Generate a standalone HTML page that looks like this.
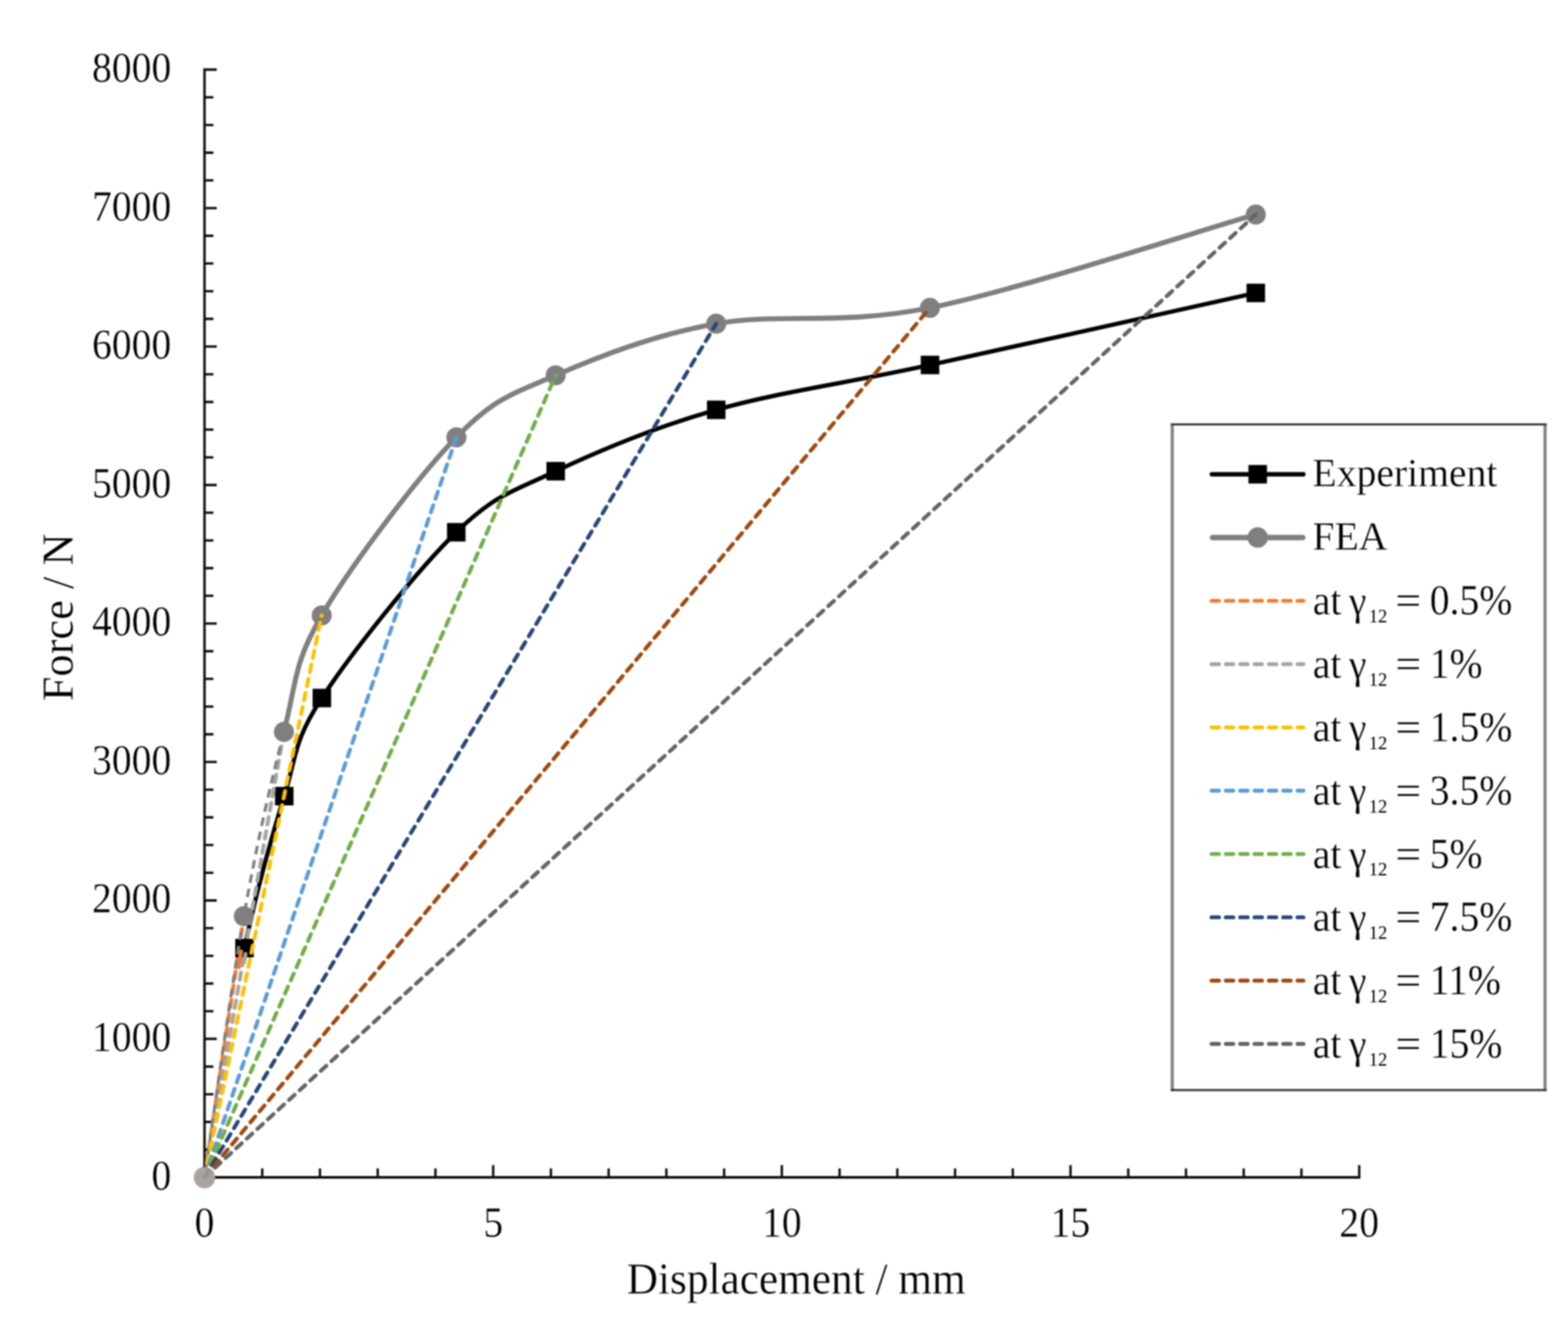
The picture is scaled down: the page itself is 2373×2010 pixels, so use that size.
<!DOCTYPE html>
<html lang="en"><head><meta charset="utf-8"><title>Force / Displacement</title>
<style>html,body{margin:0;padding:0;background:#fff}body{width:2373px;height:2010px;overflow:hidden}svg{display:block;filter:blur(0.8px)}text{font-family:"Liberation Serif","DejaVu Serif",serif;fill:#000;stroke:#fff;stroke-width:0.4px}</style></head><body>
<svg width="2373" height="2010" viewBox="0 0 2373 2010">
<rect width="2373" height="2010" fill="#fff"/>
<g stroke="#0d0d0d" stroke-width="3.6" fill="none" stroke-linecap="butt">
<path d="M309.50,103.60 V1784.10" stroke-width="3.7"/>
<path d="M307.65,1782.00 H2058.80" stroke-width="4.2"/>
<path d="M309.50,1782.00h18.5M309.50,1740.09h13.5M309.50,1698.17h13.5M309.50,1656.26h13.5M309.50,1614.34h13.5M309.50,1572.42h18.5M309.50,1530.51h13.5M309.50,1488.60h13.5M309.50,1446.68h13.5M309.50,1404.76h13.5M309.50,1362.85h18.5M309.50,1320.93h13.5M309.50,1279.02h13.5M309.50,1237.11h13.5M309.50,1195.19h13.5M309.50,1153.28h18.5M309.50,1111.36h13.5M309.50,1069.44h13.5M309.50,1027.53h13.5M309.50,985.62h13.5M309.50,943.70h18.5M309.50,901.78h13.5M309.50,859.87h13.5M309.50,817.95h13.5M309.50,776.04h13.5M309.50,734.12h18.5M309.50,692.21h13.5M309.50,650.29h13.5M309.50,608.38h13.5M309.50,566.46h13.5M309.50,524.55h18.5M309.50,482.63h13.5M309.50,440.72h13.5M309.50,398.80h13.5M309.50,356.89h13.5M309.50,314.97h18.5M309.50,273.06h13.5M309.50,231.14h13.5M309.50,189.23h13.5M309.50,147.31h13.5M309.50,105.40h18.5M309.50,1782.00v-18.5M396.88,1782.00v-13.5M484.25,1782.00v-13.5M571.62,1782.00v-13.5M659.00,1782.00v-13.5M746.38,1782.00v-18.5M833.75,1782.00v-13.5M921.12,1782.00v-13.5M1008.50,1782.00v-13.5M1095.88,1782.00v-13.5M1183.25,1782.00v-18.5M1270.62,1782.00v-13.5M1358.00,1782.00v-13.5M1445.38,1782.00v-13.5M1532.75,1782.00v-13.5M1620.12,1782.00v-18.5M1707.50,1782.00v-13.5M1794.88,1782.00v-13.5M1882.25,1782.00v-13.5M1969.62,1782.00v-13.5M2057.00,1782.00v-18.5"/>
</g>
<text transform="translate(259.2,1800.6) scale(1,1.075)" font-size="60" text-anchor="end">0</text>
<text transform="translate(259.2,1591.0) scale(1,1.075)" font-size="60" text-anchor="end">1000</text>
<text transform="translate(259.2,1381.4) scale(1,1.075)" font-size="60" text-anchor="end">2000</text>
<text transform="translate(259.2,1171.9) scale(1,1.075)" font-size="60" text-anchor="end">3000</text>
<text transform="translate(259.2,962.3) scale(1,1.075)" font-size="60" text-anchor="end">4000</text>
<text transform="translate(259.2,752.7) scale(1,1.075)" font-size="60" text-anchor="end">5000</text>
<text transform="translate(259.2,543.1) scale(1,1.075)" font-size="60" text-anchor="end">6000</text>
<text transform="translate(259.2,333.6) scale(1,1.075)" font-size="60" text-anchor="end">7000</text>
<text transform="translate(259.2,124.0) scale(1,1.075)" font-size="60" text-anchor="end">8000</text>
<text transform="translate(309.5,1871.5) scale(1,1.075)" font-size="60" text-anchor="middle">0</text>
<text transform="translate(746.4,1871.5) scale(1,1.075)" font-size="60" text-anchor="middle">5</text>
<text transform="translate(1183.2,1871.5) scale(1,1.075)" font-size="60" text-anchor="middle">10</text>
<text transform="translate(1620.1,1871.5) scale(1,1.075)" font-size="60" text-anchor="middle">15</text>
<text transform="translate(2057.0,1871.5) scale(1,1.075)" font-size="60" text-anchor="middle">20</text>
<text transform="translate(1205.0,1957.8) scale(1,1.040)" font-size="65.5" text-anchor="middle">Displacement / mm</text>
<text transform="translate(110.0,934.4) rotate(-90) scale(1,1.000)" font-size="67.2" text-anchor="middle">Force / N</text>
<path d="M370.00,1435.00 C390.12,1338.83 410.68,1268.08 430.20,1205.00 C449.72,1141.92 443.72,1123.07 487.10,1056.50 C530.48,989.93 631.52,862.82 690.50,805.60 C749.48,748.38 775.43,744.08 841.00,713.20 C906.57,682.32 989.48,647.10 1083.90,620.30 C1178.32,593.50 1271.40,581.88 1407.50,552.40 C1543.60,522.92 1818.33,461.57 1900.50,443.40" fill="none" stroke="#000" stroke-width="6.5" stroke-linejoin="round"/>
<rect x="416.2" y="1191.0" width="28" height="28" fill="#000"/>
<rect x="473.1" y="1042.5" width="28" height="28" fill="#000"/>
<rect x="676.5" y="791.6" width="28" height="28" fill="#000"/>
<rect x="827.0" y="699.2" width="28" height="28" fill="#000"/>
<rect x="1069.9" y="606.3" width="28" height="28" fill="#000"/>
<rect x="1393.5" y="538.4" width="28" height="28" fill="#000"/>
<rect x="1886.5" y="429.4" width="28" height="28" fill="#000"/>
<path d="M309.50,1782.00 L369.10,1386.80" fill="none" stroke="#ED7D31" stroke-width="5.9" stroke-dasharray="11.3 10.4" stroke-linecap="round"/>
<circle cx="309.5" cy="1782.3" r="16.6" fill="#ED7D31" fill-opacity="0.55"/>
<path d="M309.50,1782.00 L429.70,1107.70" fill="none" stroke="#A5A5A5" stroke-width="5.9" stroke-dasharray="11.3 10.4" stroke-linecap="round"/>
<circle cx="309.5" cy="1782.3" r="15.6" fill="#A5A5A5"/>
<rect x="356.0" y="1421.0" width="28" height="28" fill="#000"/>
<path d="M364.80,1440.00 l-3.6,24" stroke="#ED7D31" stroke-width="5.9" stroke-linecap="round" fill="none"/>
<path d="M371.60,1444.00 l-2.4,13" stroke="#A5A5A5" stroke-width="5.9" stroke-linecap="round" fill="none"/>
<path d="M309.50,1782.00 C319.43,1716.13 349.07,1499.18 369.10,1386.80 C389.13,1274.42 410.07,1183.58 429.70,1107.70" fill="none" stroke="#7F7F7F" stroke-width="4.6" stroke-dasharray="13 9" stroke-dashoffset="11"/>
<path d="M429.70,1107.70 C449.33,1031.82 443.40,1005.80 486.90,931.50 C530.40,857.20 631.68,722.47 690.70,661.90 C749.72,601.33 775.47,596.77 841.00,568.10 C906.53,539.43 989.52,506.93 1083.90,489.90 C1178.28,472.87 1271.20,493.43 1407.30,465.90 C1543.40,438.37 1818.30,348.23 1900.50,324.70" fill="none" stroke="#7F7F7F" stroke-width="7.6" stroke-linejoin="round"/>
<circle cx="369.1" cy="1386.8" r="15.2" fill="#7F7F7F"/>
<circle cx="429.7" cy="1107.7" r="15.2" fill="#7F7F7F"/>
<circle cx="486.9" cy="931.5" r="15.2" fill="#7F7F7F"/>
<circle cx="690.7" cy="661.9" r="15.2" fill="#7F7F7F"/>
<circle cx="841.0" cy="568.1" r="15.2" fill="#7F7F7F"/>
<circle cx="1083.9" cy="489.9" r="15.2" fill="#7F7F7F"/>
<circle cx="1407.3" cy="465.9" r="15.2" fill="#7F7F7F"/>
<circle cx="1900.5" cy="324.7" r="15.2" fill="#7F7F7F"/>
<path d="M309.50,1782.00 L486.90,931.50" fill="none" stroke="#FFC000" stroke-width="5.9" stroke-dasharray="11.3 10.4" stroke-linecap="round"/>
<path d="M309.50,1782.00 L690.70,661.90" fill="none" stroke="#5B9BD5" stroke-width="5.9" stroke-dasharray="11.3 10.4" stroke-linecap="round"/>
<path d="M309.50,1782.00 L841.00,568.10" fill="none" stroke="#70AD47" stroke-width="5.9" stroke-dasharray="11.3 10.4" stroke-linecap="round"/>
<path d="M309.50,1782.00 L1083.90,489.90" fill="none" stroke="#264478" stroke-width="5.9" stroke-dasharray="11.3 10.4" stroke-linecap="round"/>
<path d="M309.50,1782.00 L1407.30,465.90" fill="none" stroke="#9E480E" stroke-width="5.9" stroke-dasharray="11.3 10.4" stroke-linecap="round"/>
<path d="M309.50,1782.00 L1900.50,324.70" fill="none" stroke="#636363" stroke-width="5.9" stroke-dasharray="11.3 10.4" stroke-linecap="round"/>
<circle cx="309.5" cy="1782.3" r="15.6" fill="#A5A5A5" fill-opacity="0.8"/>
<rect x="1774" y="642.4" width="564.3" height="1007.4" fill="#fff"/>
<path d="M1774.1,641 V1651.4 M2338.3,641 V1651.4" stroke="#838281" stroke-width="4.8" fill="none"/>
<path d="M1771.8,642.4 H2340.7 M1771.8,1649.8 H2340.7" stroke="#383838" stroke-width="3.3" fill="none"/>
<path d="M1834.0,717.8 H1972.5" stroke="#000" stroke-width="6.8" stroke-linecap="round" fill="none"/>
<rect x="1889.4" y="703.8" width="28" height="28" fill="#000"/>
<text transform="translate(1986.3,736.3) scale(1,1.020)" font-size="60">Experiment</text>
<path d="M1835.0,813.6 H1971.5" stroke="#7F7F7F" stroke-width="8.4" stroke-linecap="round" fill="none"/>
<circle cx="1903.4" cy="813.6" r="15.5" fill="#7F7F7F"/>
<text transform="translate(1986.3,832.1) scale(1,1.020)" font-size="60">FEA</text>
<path d="M1833.5,909.4 H1972.6" stroke="#ED7D31" stroke-width="5.9" stroke-dasharray="11.3 10.4" stroke-linecap="round" fill="none"/>
<text transform="translate(1988.5,930.4) scale(1,1.045)" font-size="60"><tspan x="-1.7">at</tspan><tspan x="53">γ</tspan><tspan x="83" dy="11.3" font-size="28" stroke-width="0">12</tspan></text>
<text transform="translate(2131.2,930.4) scale(1.17,1.045)" font-size="60" text-anchor="middle" fill="#222">=</text>
<text transform="translate(2163.7,930.4) scale(1,1.085)" font-size="60">0.5%</text>
<path d="M1833.5,1005.2 H1972.6" stroke="#A5A5A5" stroke-width="5.9" stroke-dasharray="11.3 10.4" stroke-linecap="round" fill="none"/>
<text transform="translate(1988.5,1026.2) scale(1,1.045)" font-size="60"><tspan x="-1.7">at</tspan><tspan x="53">γ</tspan><tspan x="83" dy="11.3" font-size="28" stroke-width="0">12</tspan></text>
<text transform="translate(2131.2,1026.2) scale(1.17,1.045)" font-size="60" text-anchor="middle" fill="#222">=</text>
<text transform="translate(2163.7,1026.2) scale(1,1.085)" font-size="60">1%</text>
<path d="M1833.5,1101.0 H1972.6" stroke="#FFC000" stroke-width="5.9" stroke-dasharray="11.3 10.4" stroke-linecap="round" fill="none"/>
<text transform="translate(1988.5,1122.0) scale(1,1.045)" font-size="60"><tspan x="-1.7">at</tspan><tspan x="53">γ</tspan><tspan x="83" dy="11.3" font-size="28" stroke-width="0">12</tspan></text>
<text transform="translate(2131.2,1122.0) scale(1.17,1.045)" font-size="60" text-anchor="middle" fill="#222">=</text>
<text transform="translate(2163.7,1122.0) scale(1,1.085)" font-size="60">1.5%</text>
<path d="M1833.5,1196.8 H1972.6" stroke="#5B9BD5" stroke-width="5.9" stroke-dasharray="11.3 10.4" stroke-linecap="round" fill="none"/>
<text transform="translate(1988.5,1217.8) scale(1,1.045)" font-size="60"><tspan x="-1.7">at</tspan><tspan x="53">γ</tspan><tspan x="83" dy="11.3" font-size="28" stroke-width="0">12</tspan></text>
<text transform="translate(2131.2,1217.8) scale(1.17,1.045)" font-size="60" text-anchor="middle" fill="#222">=</text>
<text transform="translate(2163.7,1217.8) scale(1,1.085)" font-size="60">3.5%</text>
<path d="M1833.5,1292.6 H1972.6" stroke="#70AD47" stroke-width="5.9" stroke-dasharray="11.3 10.4" stroke-linecap="round" fill="none"/>
<text transform="translate(1988.5,1313.6) scale(1,1.045)" font-size="60"><tspan x="-1.7">at</tspan><tspan x="53">γ</tspan><tspan x="83" dy="11.3" font-size="28" stroke-width="0">12</tspan></text>
<text transform="translate(2131.2,1313.6) scale(1.17,1.045)" font-size="60" text-anchor="middle" fill="#222">=</text>
<text transform="translate(2163.7,1313.6) scale(1,1.085)" font-size="60">5%</text>
<path d="M1833.5,1388.4 H1972.6" stroke="#264478" stroke-width="5.9" stroke-dasharray="11.3 10.4" stroke-linecap="round" fill="none"/>
<text transform="translate(1988.5,1409.4) scale(1,1.045)" font-size="60"><tspan x="-1.7">at</tspan><tspan x="53">γ</tspan><tspan x="83" dy="11.3" font-size="28" stroke-width="0">12</tspan></text>
<text transform="translate(2131.2,1409.4) scale(1.17,1.045)" font-size="60" text-anchor="middle" fill="#222">=</text>
<text transform="translate(2163.7,1409.4) scale(1,1.085)" font-size="60">7.5%</text>
<path d="M1833.5,1484.2 H1972.6" stroke="#9E480E" stroke-width="5.9" stroke-dasharray="11.3 10.4" stroke-linecap="round" fill="none"/>
<text transform="translate(1988.5,1505.2) scale(1,1.045)" font-size="60"><tspan x="-1.7">at</tspan><tspan x="53">γ</tspan><tspan x="83" dy="11.3" font-size="28" stroke-width="0">12</tspan></text>
<text transform="translate(2131.2,1505.2) scale(1.17,1.045)" font-size="60" text-anchor="middle" fill="#222">=</text>
<text transform="translate(2163.7,1505.2) scale(1,1.085)" font-size="60">11%</text>
<path d="M1833.5,1580.0 H1972.6" stroke="#636363" stroke-width="5.9" stroke-dasharray="11.3 10.4" stroke-linecap="round" fill="none"/>
<text transform="translate(1988.5,1601.0) scale(1,1.045)" font-size="60"><tspan x="-1.7">at</tspan><tspan x="53">γ</tspan><tspan x="83" dy="11.3" font-size="28" stroke-width="0">12</tspan></text>
<text transform="translate(2131.2,1601.0) scale(1.17,1.045)" font-size="60" text-anchor="middle" fill="#222">=</text>
<text transform="translate(2163.7,1601.0) scale(1,1.085)" font-size="60">15%</text>
</svg></body></html>
